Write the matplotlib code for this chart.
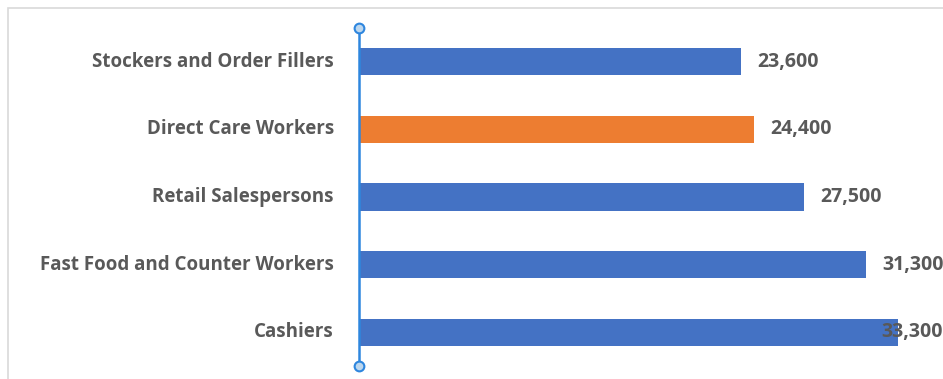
import numpy as np
import matplotlib.pyplot as plt
from matplotlib.patches import Rectangle

# data, top to bottom as drawn
jobs = ["Stockers and Order Fillers", "Direct Care Workers", "Retail Salespersons",
        "Fast Food and Counter Workers", "Cashiers"]
openings = [23600, 24400, 27500, 31300, 33300]
colors = ["#4472C4", "#ED7D31", "#4472C4", "#4472C4", "#4472C4"]
value_labels = ["23,600", "24,400", "27,500", "31,300", "33,300"]

W, H = 943, 379
fig = plt.figure(figsize=(W / 100, H / 100), dpi=100)
plt.rcParams['font.family'] = ['Open Sans', 'DejaVu Sans']

# chart frame (only left/top visible, rest is cropped)
fig.add_artist(Rectangle((8 / W, -0.1), 1.2, (H - 8) / H + 0.1, transform=fig.transFigure,
                         fill=False, edgecolor="#D9D9D9", linewidth=1.2))

ax = fig.add_axes([359 / W, (H - 366) / H, (W - 359) / W, 338 / H])
y = np.arange(len(jobs))
ax.barh(y, openings, height=0.4, color=colors)
ax.set_xlim(0, 36070)
ax.set_ylim(len(jobs) - 0.5, -0.5)

for s in ax.spines.values():
    s.set_visible(False)
ax.set_xticks([])
ax.set_yticks(y)
ax.set_yticklabels(jobs, fontsize=13.5, fontweight="bold", color="#595959",
                   va="center")
ax.tick_params(axis="y", length=0, pad=18)

# vertical axis line with round end markers
ax.plot([0, 0], [-0.5, len(jobs) - 0.5], color="#2E86DE", linewidth=1.8,
        marker="o", markersize=7, markerfacecolor="#BDD7EE", markeredgecolor="#2E86DE",
        markeredgewidth=1.5, clip_on=False, zorder=5)

xmax = ax.get_xlim()[1]
for i, (v, lab) in enumerate(zip(openings, value_labels)):
    xpos = v + 1000
    if xpos > xmax - 2500:
        xpos = v - 1050
    ax.text(xpos, i, lab, va="center", ha="left", fontsize=14, fontweight="bold",
            color="#595959", zorder=6, clip_on=False)

fig.savefig("out.png", dpi=100)
